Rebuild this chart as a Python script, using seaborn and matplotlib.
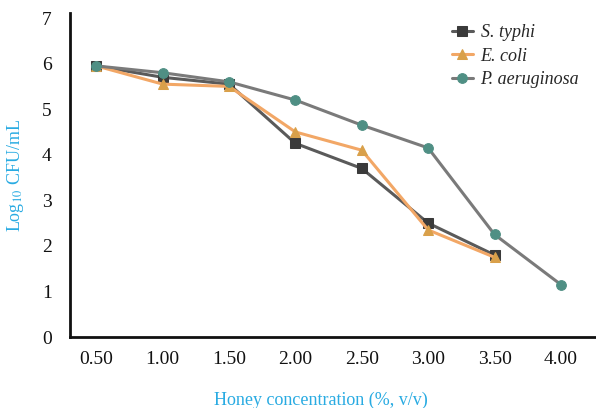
import matplotlib
matplotlib.use("Agg")
import matplotlib.pyplot as plt
import numpy as np
import pandas as pd
import seaborn as sns

sns.set_theme(style="white")
plt.rcParams["font.family"] = ["Liberation Serif", "DejaVu Serif"]
plt.rcParams["mathtext.fontset"] = "stix"

# honey concentration (%, v/v)
conc = [0.5, 1.0, 1.5, 2.0, 2.5, 3.0, 3.5, 4.0]
conc_labels = ["0.50", "1.00", "1.50", "2.00", "2.50", "3.00", "3.50", "4.00"]

# log10 CFU/mL
s_typhi = [5.95, 5.7, 5.55, 4.25, 3.7, 2.5, 1.8, np.nan]
e_coli = [5.95, 5.55, 5.5, 4.5, 4.1, 2.35, 1.75, np.nan]
p_aeruginosa = [5.95, 5.8, 5.6, 5.2, 4.65, 4.15, 2.25, 1.15]

series = ["S. typhi", "E. coli", "P. aeruginosa"]

df = pd.DataFrame({
    "conc": conc * 3,
    "cfu": s_typhi + e_coli + p_aeruginosa,
    "strain": [s for s in series for _ in conc],
})

styles = {
    "S. typhi": dict(color="#5a5a5a", marker="s", mfc="#3a3a3a"),
    "E. coli": dict(color="#f2a766", marker="^", mfc="#d9a04a"),
    "P. aeruginosa": dict(color="#7a7a7a", marker="o", mfc="#4f8f84"),
}

fig, ax = plt.subplots(figsize=(5.96, 4.08), dpi=100)
fig.subplots_adjust(left=0.117, right=0.999, bottom=0.174, top=0.968)

for name in series:
    sub = df[df["strain"] == name].dropna()
    st = styles[name]
    sns.lineplot(data=sub, x="conc", y="cfu", ax=ax, color=st["color"],
                 linewidth=2.2, marker=st["marker"], markersize=7,
                 markerfacecolor=st["mfc"], markeredgecolor=st["mfc"],
                 label=name)

ax.set_xlim(0.3, 4.26)
ax.set_ylim(0, 7.11)
ax.set_xticks(conc)
ax.set_xticklabels(conc_labels)
ax.set_xticks([0.75, 1.25, 1.75, 2.25, 2.75, 3.25, 3.75], minor=True)
ax.set_yticks(range(0, 8))
ax.tick_params(axis="both", which="major", labelsize=14, length=0, colors="#111111")
ax.tick_params(axis="x", which="major", pad=10)
ax.tick_params(axis="y", which="major", pad=13)
ax.tick_params(axis="x", which="minor", length=4, width=3, color="#bbbbbb", direction="out")

for side in ["top", "right"]:
    ax.spines[side].set_visible(False)
for side in ["left", "bottom"]:
    ax.spines[side].set_color("#111111")
    ax.spines[side].set_linewidth(2)

label_color = "#29abe2"
ax.set_xlabel("Honey concentration (%, v/v)", fontsize=13, color=label_color)
ax.set_ylabel(r"Log$_{10}$ CFU/mL", fontsize=13, color=label_color)
ax.xaxis.set_label_coords(0.477, -0.17)
ax.yaxis.set_label_coords(-0.084, 0.5)

leg = ax.legend(loc="upper right", bbox_to_anchor=(1.0, 1.015), frameon=False,
                prop={"style": "italic", "size": 13}, handlelength=1.2,
                handletextpad=0.4, labelspacing=0.35)

fig.savefig("out.png", dpi=100)
